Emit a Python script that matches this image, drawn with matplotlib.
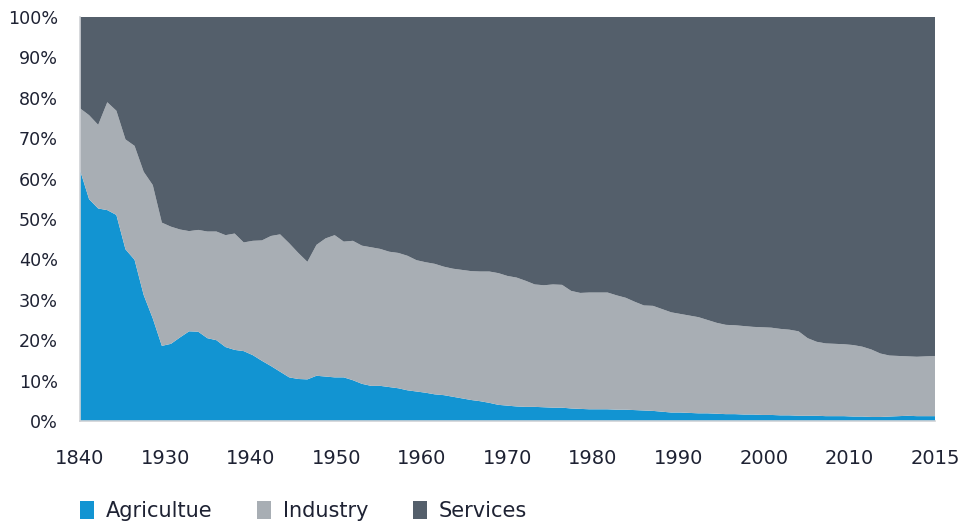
import numpy as np
import matplotlib
matplotlib.use("Agg")
import matplotlib.pyplot as plt
from matplotlib.patches import Patch

# Categories: decades 1840-1920, then yearly 1930-2015
years = [1840, 1850, 1860, 1870, 1880, 1890, 1900, 1910, 1920] + list(range(1930, 2016))

agriculture = [62.1, 54.9, 52.6, 52.2, 51.0, 42.5, 39.9, 31.2, 25.4, 18.6,
               19.1, 20.7, 22.2, 22.1, 20.5, 20.0, 18.3, 17.6, 17.3, 16.3,
               14.9, 13.6, 12.2, 10.8, 10.4, 10.3, 11.2, 11.0, 10.8, 10.8,
               10.1, 9.2, 8.7, 8.7, 8.4, 8.1, 7.6, 7.3, 7.0, 6.6,
               6.4, 6.0, 5.6, 5.2, 4.9, 4.5, 4.0, 3.8, 3.6, 3.5,
               3.5, 3.4, 3.3, 3.3, 3.1, 3.0, 2.9, 2.9, 2.9, 2.8,
               2.8, 2.7, 2.6, 2.5, 2.3, 2.1, 2.1, 2.0, 1.9, 1.9,
               1.8, 1.7, 1.7, 1.6, 1.6, 1.5, 1.5, 1.4, 1.4, 1.3,
               1.3, 1.3, 1.2, 1.2, 1.2, 1.1, 1.1, 1.0, 1.0, 1.1,
               1.2, 1.3, 1.2, 1.2, 1.2]

industry = [15.3, 20.8, 20.7, 26.7, 25.8, 27.2, 28.2, 30.5, 33.0, 30.5,
            29.0, 26.7, 24.8, 25.2, 26.4, 26.9, 27.7, 28.8, 26.9, 28.3,
            29.8, 32.2, 34.0, 33.2, 31.2, 29.1, 32.4, 34.2, 35.2, 33.6,
            34.5, 34.2, 34.3, 33.9, 33.5, 33.5, 33.3, 32.5, 32.3, 32.3,
            31.8, 31.7, 31.8, 31.9, 32.1, 32.5, 32.6, 32.1, 31.9, 31.2,
            30.3, 30.2, 30.5, 30.4, 29.1, 28.7, 28.9, 28.9, 28.9, 28.3,
            27.7, 26.8, 26.0, 26.0, 25.4, 24.8, 24.4, 24.1, 23.8, 23.1,
            22.5, 22.1, 22.0, 21.9, 21.7, 21.7, 21.6, 21.4, 21.2, 20.9,
            19.2, 18.3, 18.0, 17.9, 17.8, 17.7, 17.3, 16.7, 15.7, 15.1,
            14.9, 14.7, 14.7, 14.8, 14.9]

services = [22.6, 24.3, 26.7, 21.1, 23.2, 30.3, 31.9, 38.3, 41.6, 50.9,
            51.9, 52.6, 53.0, 52.7, 53.1, 53.1, 54.0, 53.6, 55.8, 55.4,
            55.3, 54.2, 53.8, 56.0, 58.4, 60.6, 56.4, 54.8, 54.0, 55.6,
            55.4, 56.6, 57.0, 57.4, 58.1, 58.4, 59.1, 60.2, 60.7, 61.1,
            61.8, 62.3, 62.6, 62.9, 63.0, 63.0, 63.4, 64.1, 64.5, 65.3,
            66.2, 66.4, 66.2, 66.3, 67.8, 68.3, 68.2, 68.2, 68.2, 68.9,
            69.5, 70.5, 71.4, 71.5, 72.3, 73.1, 73.5, 73.9, 74.3, 75.0,
            75.7, 76.2, 76.3, 76.5, 76.7, 76.8, 76.9, 77.2, 77.4, 77.8,
            79.5, 80.4, 80.8, 80.9, 81.0, 81.2, 81.6, 82.3, 83.3, 83.8,
            83.9, 84.0, 84.1, 84.0, 83.9]

tick_labels = ["1840", "1930", "1940", "1950", "1960", "1970",
               "1980", "1990", "2000", "2010", "2015"]
series_names = ["Agricultue", "Industry", "Services"]
colors = ["#1294d2", "#a8aeb4", "#545f6b"]
text_color = "#1e2233"

fig = plt.figure(figsize=(9.79, 5.23), dpi=100)
ax = fig.add_axes([80 / 979, 1 - 421 / 523, 855 / 979, 404 / 523])

x = np.arange(len(years))
ax.stackplot(x, agriculture, industry, services, colors=colors, linewidth=0)

ax.set_xlim(0, len(years) - 1)
ax.set_ylim(0, 100)
ax.set_yticks(np.arange(0, 101, 10))
ax.set_yticklabels([f"{v}%" for v in range(0, 101, 10)])
ax.set_xticks(np.linspace(0, len(years) - 1, len(tick_labels)))
ax.set_xticklabels(tick_labels)

ax.tick_params(axis="y", length=0, pad=16, labelsize=12.6, labelcolor=text_color)
ax.tick_params(axis="x", length=0, pad=20, labelsize=14, labelcolor=text_color)

for s in ["top", "right"]:
    ax.spines[s].set_visible(False)
for s in ["left", "bottom"]:
    ax.spines[s].set_color("#cfd2d6")
    ax.spines[s].set_linewidth(1.2)
    ax.spines[s].set_zorder(5)

handles = [Patch(facecolor=c, edgecolor="none") for c in colors]
fig.legend(handles, series_names, loc="center left",
           bbox_to_anchor=(80 / 979, 1 - 511 / 523), ncol=3, frameon=False,
           fontsize=15, handlelength=0.68, handleheight=0.95,
           handletextpad=0.55, columnspacing=2.15, labelcolor=text_color,
           borderaxespad=0, borderpad=0)

fig.savefig("out.png", dpi=100)
